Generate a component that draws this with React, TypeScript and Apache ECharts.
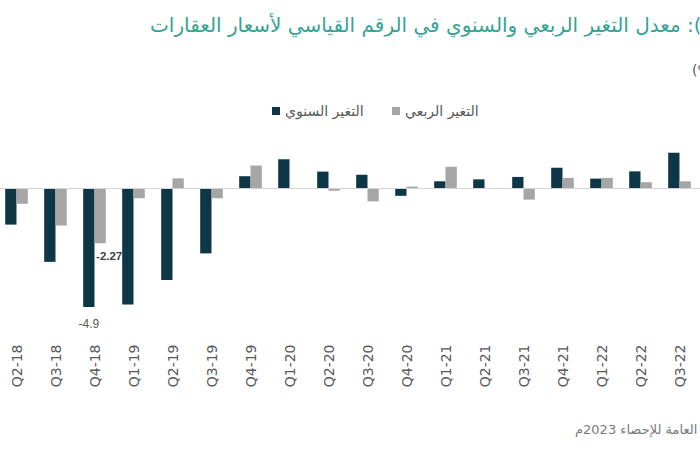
import React, { useEffect, useRef } from "react";
import * as echarts from "echarts";

const categories = [
  "Q1-18", "Q2-18", "Q3-18", "Q4-18", "Q1-19", "Q2-19", "Q3-19", "Q4-19",
  "Q1-20", "Q2-20", "Q3-20", "Q4-20", "Q1-21", "Q2-21", "Q3-21", "Q4-21",
  "Q1-22", "Q2-22", "Q3-22", "Q4-22",
];

// التغير السنوي (annual change)
const annualChange: (number | null)[] = [
  null, -1.5, -3.04, -4.9, -4.8, -3.79, -2.69, 0.5,
  1.2, 0.69, 0.56, -0.31, 0.29, 0.37, 0.47, 0.85,
  0.4, 0.7, 1.47, null,
];

// التغير الربعي (quarterly change)
const quarterlyChange: (number | null)[] = [
  null, -0.64, -1.54, -2.27, -0.41, 0.41, -0.41, 0.94,
  0, -0.1, -0.54, 0.07, 0.89, 0, -0.47, 0.43,
  0.43, 0.25, 0.29, null,
];

const seriesNames = ["التغير السنوي", "التغير الربعي"];
const titleText = "شكل (3): معدل التغير الربعي والسنوي في الرقم القياسي لأسعار العقارات";
const unitText = "(%)";
const sourceText = "المصدر: الهيئة العامة للإحصاء 2023م";

const DARK = "#0d3747";
const GRAY = "#a6a6a6";

// the chart canvas is wider than the visible frame and shifted left
const SHIFT = 42;
const CHART_W = 780;

export default function App() {
  const ref = useRef<HTMLDivElement>(null);
  useEffect(() => {
    if (!ref.current) return;
    const chart = echarts.init(ref.current, undefined, { renderer: "svg" });

    const annualData = annualChange.map((v) =>
      v === -4.9
        ? {
            value: v,
            label: {
              show: true,
              position: "bottom",
              offset: [0, 6],
              formatter: "{c}",
              color: "#595959",
              fontSize: 12,
              fontFamily: "Liberation Sans",
            },
          }
        : v
    );
    const quarterlyData = quarterlyChange.map((v) =>
      v === -2.27
        ? {
            value: v,
            label: {
              show: true,
              position: "bottom",
              offset: [9, 2],
              formatter: "{c}",
              color: "#404040",
              fontWeight: "bold",
              fontSize: 11.5,
              fontFamily: "Liberation Sans",
            },
          }
        : v
    );

    const legendText = { color: "#595959", fontSize: 14, fontFamily: "DejaVu Sans" };

    chart.setOption({
      animation: false,
      backgroundColor: "#ffffff",
      grid: { left: 0, right: 0, top: 139.9, bottom: 116.5, containLabel: false },
      legend: [
        {
          data: [seriesNames[0]],
          left: 272 + SHIFT,
          top: 104,
          padding: 0,
          icon: "rect",
          itemWidth: 8,
          itemHeight: 8,
          textStyle: legendText,
        },
        {
          data: [seriesNames[1]],
          left: 392 + SHIFT,
          top: 104,
          padding: 0,
          icon: "rect",
          itemWidth: 8,
          itemHeight: 8,
          textStyle: legendText,
        },
      ],
      xAxis: {
        type: "category",
        data: categories,
        axisLine: { show: false, onZero: false },
        axisTick: { show: false },
        splitLine: { show: false },
        axisLabel: {
          interval: 0,
          rotate: 90,
          margin: 11,
          color: "#595959",
          fontSize: 14,
          fontFamily: "DejaVu Sans",
        },
      },
      yAxis: {
        type: "value",
        min: -6,
        max: 2,
        show: false,
        splitLine: { show: false },
      },
      series: [
        {
          name: seriesNames[0],
          type: "bar",
          data: annualData,
          barWidth: "29%",
          barGap: "0%",
          itemStyle: { color: DARK },
          markLine: {
            silent: true,
            symbol: "none",
            label: { show: false },
            lineStyle: { color: "#d4d4d4", width: 1, type: "solid" },
            data: [{ yAxis: 0 }],
          },
        },
        {
          name: seriesNames[1],
          type: "bar",
          data: quarterlyData,
          barWidth: "29%",
          barGap: "0%",
          itemStyle: { color: GRAY },
        },
      ],
      graphic: [
        {
          type: "text",
          left: 150 + SHIFT,
          top: 15,
          style: {
            text: titleText,
            fill: "#35a394",
            fontSize: 20,
            fontFamily: "DejaVu Sans",
          },
        },
        {
          type: "text",
          left: 692 + SHIFT,
          top: 63,
          style: {
            text: unitText,
            fill: "#595959",
            fontSize: 14,
            fontFamily: "DejaVu Sans",
          },
        },
        {
          type: "text",
          left: 575 + SHIFT,
          top: 423,
          style: {
            text: sourceText,
            fill: "#7a7a7a",
            fontSize: 13,
            fontFamily: "DejaVu Sans",
          },
        },
      ],
    });
    return () => chart.dispose();
  }, []);
  return (
    <div
      style={{
        position: "absolute",
        left: 0,
        top: 0,
        width: 700,
        height: 450,
        overflow: "hidden",
        background: "#fff",
      }}
    >
      <div
        ref={ref}
        style={{ position: "absolute", left: -SHIFT, top: 0, width: CHART_W, height: 450 }}
      />
    </div>
  );
}
